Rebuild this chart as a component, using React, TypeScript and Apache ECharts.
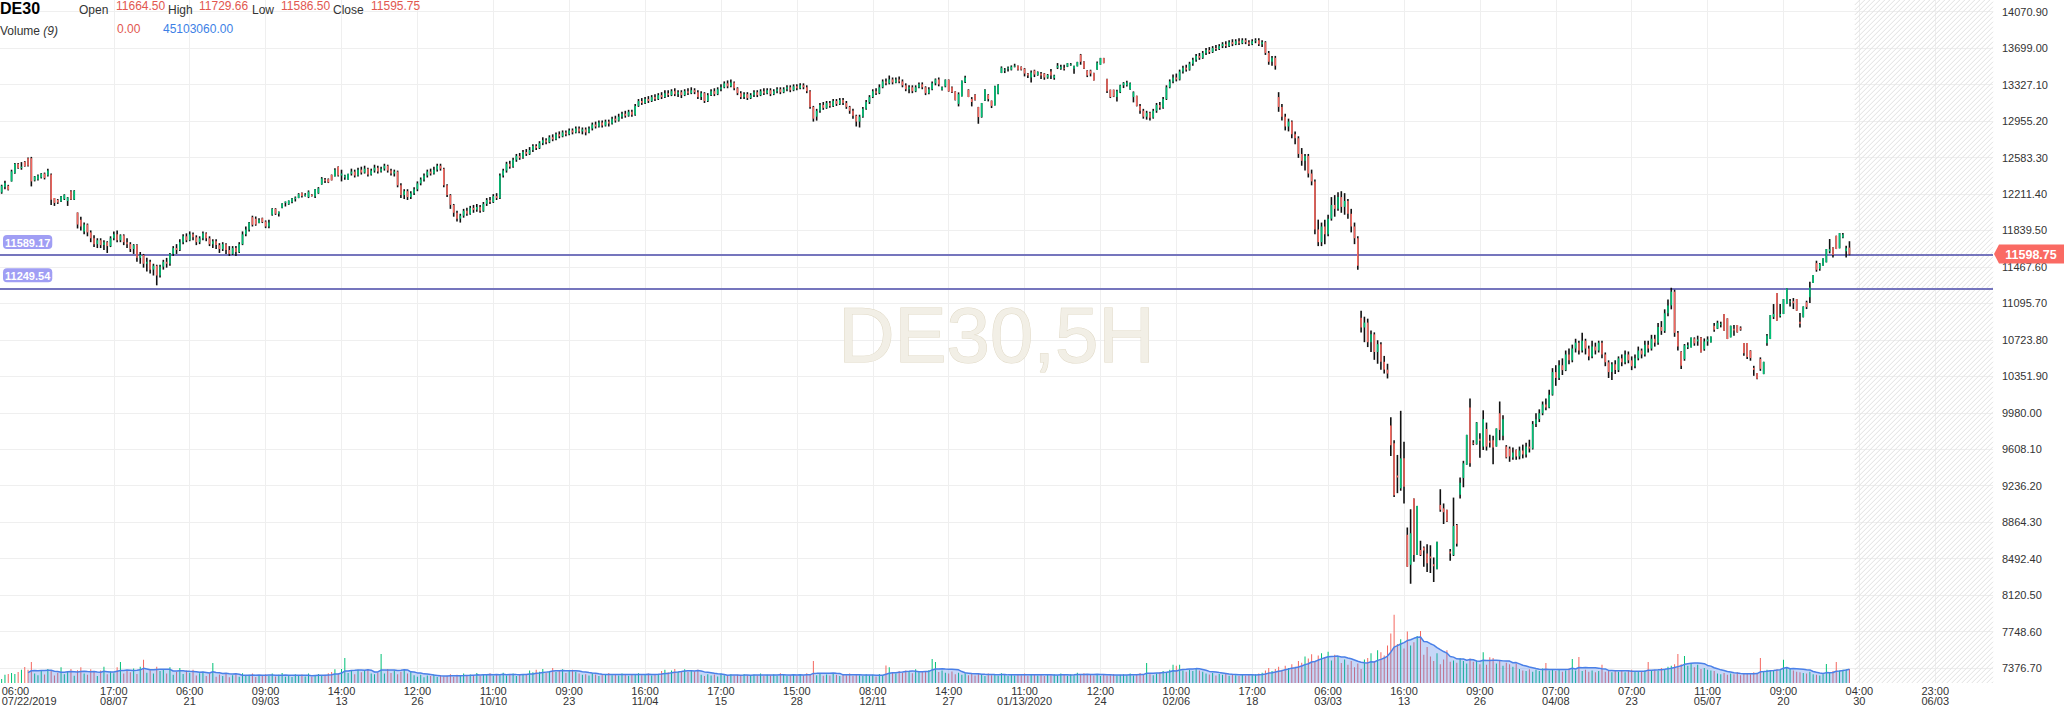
import React, { useEffect, useRef } from "react";
import * as echarts from "echarts";

const symbolName = "DE30";
const periodName = "5H";

// [open, close, low, high] for each 5H bar
const ohlc: number[][] = [
  [12227,12295,12214,12305],[12282,12323,12261,12346],[12295,12255,12248,12305],[12340,12442,12338,12459],[12425,12520,12418,12527],[12520,12476,12470,12527],[12476,12490,12459,12537],[12540,12493,12490,12547],[12575,12500,12493,12585],[12577,12340,12289,12590],
  [12350,12390,12340,12395],[12360,12400,12350,12410],[12380,12420,12370,12425],[12420,12375,12360,12430],[12400,12450,12390,12470],[12410,12153,12100,12420],[12170,12120,12090,12170],[12150,12125,12110,12160],[12135,12185,12130,12190],[12160,12205,12150,12210],
  [12140,12175,12090,12180],[12240,12155,12150,12250],[12155,12245,12150,12250],[12023,11900,11860,12023],[11950,11880,11840,11980],[11830,11900,11800,11920],[11900,11820,11780,11910],[11820,11760,11720,11840],[11760,11700,11670,11790],[11700,11740,11660,11760],
  [11740,11690,11660,11760],[11690,11720,11640,11740],[11720,11680,11610,11730],[11680,11760,11670,11780],[11760,11800,11740,11830],[11800,11740,11720,11840],[11740,11790,11720,11800],[11790,11720,11690,11800],[11720,11700,11660,11760],[11700,11650,11620,11720],
  [11650,11690,11600,11700],[11690,11560,11520,11700],[11560,11590,11500,11620],[11590,11500,11460,11600],[11500,11520,11420,11560],[11520,11440,11400,11540],[11440,11480,11380,11500],[11480,11380,11280,11490],[11380,11470,11360,11490],[11470,11520,11440,11540],
  [11520,11500,11460,11560],[11500,11600,11480,11610],[11600,11660,11580,11680],[11660,11640,11600,11700],[11640,11720,11630,11750],[11720,11780,11700,11800],[11780,11740,11720,11810],[11740,11800,11730,11830],[11800,11770,11740,11820],[11770,11720,11690,11790],
  [11720,11760,11700,11780],[11760,11810,11740,11830],[11810,11760,11730,11820],[11760,11700,11680,11780],[11700,11730,11660,11750],[11730,11690,11650,11750],[11690,11650,11610,11710],[11650,11700,11630,11720],[11700,11640,11600,11710],[11640,11600,11580,11680],
  [11600,11660,11590,11680],[11660,11620,11580,11680],[11620,11700,11610,11720],[11700,11800,11690,11830],[11800,11850,11780,11880],[11846,11921,11830,11925],[11975,11897,11880,11990],[11960,11900,11887,11982],[11915,11950,11914,11965],[11965,11925,11915,11970],
  [11930,11880,11863,11942],[11880,11920,11863,11948],[12000,12060,11990,12067],[12060,12010,11998,12067],[12010,12030,11982,12033],[12070,12115,12067,12118],[12120,12135,12084,12135],[12105,12145,12100,12146],[12130,12165,12118,12170],[12160,12175,12135,12186],
  [12170,12210,12169,12220],[12225,12190,12176,12227],[12190,12205,12186,12220],[12180,12235,12170,12248],[12205,12190,12186,12210],[12185,12260,12170,12262],[12220,12270,12213,12282],[12310,12370,12306,12384],[12360,12345,12323,12374],[12363,12330,12323,12370],
  [12407,12350,12350,12410],[12390,12460,12390,12475],[12490,12400,12390,12493],[12400,12420,12340,12459],[12380,12400,12357,12408],[12357,12418,12357,12418],[12418,12440,12400,12470],[12440,12400,12380,12460],[12400,12460,12390,12480],[12460,12430,12410,12490],
  [12430,12470,12420,12500],[12470,12410,12390,12480],[12410,12450,12400,12470],[12450,12480,12430,12510],[12480,12440,12420,12500],[12440,12470,12430,12490],[12470,12500,12450,12520],[12500,12450,12430,12510],[12450,12420,12400,12470],[12420,12440,12390,12460],
  [12440,12300,12280,12450],[12300,12200,12170,12320],[12200,12240,12160,12260],[12240,12180,12150,12260],[12180,12220,12160,12240],[12220,12260,12200,12280],[12260,12320,12240,12340],[12320,12360,12300,12380],[12360,12400,12340,12420],[12400,12440,12380,12460],
  [12440,12420,12400,12470],[12420,12460,12410,12490],[12460,12500,12440,12520],[12500,12470,12450,12520],[12470,12300,12280,12480],[12300,12200,12180,12310],[12200,12100,12060,12210],[12100,12020,11980,12110],[12020,11960,11930,12040],[11960,11990,11920,12010],
  [11990,12040,11970,12060],[12040,12010,11990,12070],[12010,12070,12000,12090],[12070,12050,12020,12100],[12050,12080,12030,12110],[12080,12040,12020,12100],[12040,12110,12030,12130],[12110,12150,12090,12170],[12150,12130,12110,12180],[12130,12190,12120,12210],
  [12190,12170,12150,12220],[12170,12400,12160,12420],[12400,12450,12380,12470],[12450,12520,12430,12540],[12520,12490,12470,12550],[12490,12560,12480,12580],[12560,12600,12540,12620],[12600,12580,12560,12630],[12580,12640,12570,12660],[12640,12620,12600,12670],
  [12620,12660,12610,12690],[12660,12700,12640,12720],[12700,12680,12660,12720],[12680,12730,12670,12750],[12730,12760,12710,12790],[12760,12740,12720,12780],[12740,12790,12730,12810],[12790,12770,12750,12820],[12770,12820,12760,12840],[12820,12800,12780,12850],
  [12800,12840,12790,12860],[12840,12820,12800,12860],[12820,12860,12810,12880],[12860,12840,12820,12880],[12840,12880,12830,12900],[12880,12850,12830,12900],[12850,12870,12820,12890],[12870,12840,12810,12890],[12840,12880,12830,12900],[12880,12920,12860,12940],
  [12920,12900,12880,12950],[12900,12940,12890,12960],[12940,12910,12890,12960],[12910,12950,12900,12970],[12950,12930,12900,12970],[12930,12980,12920,13000],[12980,12960,12940,13010],[12960,13000,12950,13030],[13000,13030,12980,13050],[13030,13010,12990,13060],
  [13010,13050,13000,13070],[13050,13020,13000,13070],[13020,13110,13010,13130],[13110,13160,13100,13180],[13160,13140,13120,13190],[13140,13180,13130,13200],[13180,13160,13140,13210],[13160,13200,13150,13220],[13200,13180,13160,13230],[13180,13220,13170,13240],
  [13220,13200,13180,13250],[13200,13240,13190,13270],[13240,13220,13200,13270],[13220,13260,13210,13280],[13260,13230,13210,13290],[13230,13250,13200,13270],[13250,13220,13190,13270],[13220,13260,13210,13280],[13260,13240,13220,13290],[13240,13270,13230,13300],
  [13270,13250,13230,13290],[13250,13200,13180,13270],[13200,13240,13170,13260],[13240,13160,13140,13250],[13160,13220,13150,13240],[13220,13260,13210,13280],[13260,13230,13210,13290],[13230,13280,13220,13300],[13280,13300,13260,13330],[13300,13340,13290,13360],
  [13340,13310,13290,13370],[13310,13350,13300,13380],[13350,13290,13270,13360],[13290,13240,13220,13300],[13240,13200,13180,13260],[13200,13230,13180,13250],[13230,13190,13170,13250],[13190,13220,13180,13240],[13220,13250,13200,13270],[13250,13220,13200,13270],
  [13220,13260,13210,13280],[13260,13240,13220,13290],[13240,13270,13230,13290],[13270,13230,13210,13290],[13230,13260,13220,13280],[13260,13280,13240,13300],[13280,13250,13230,13300],[13250,13280,13240,13300],[13280,13300,13260,13320],[13300,13270,13250,13320],
  [13270,13310,13260,13330],[13310,13290,13270,13330],[13290,13320,13280,13340],[13320,13300,13280,13340],[13300,13260,13240,13320],[13260,13100,13080,13270],[13100,12980,12950,13110],[13000,13060,12960,13080],[13060,13120,13040,13140],[13120,13090,13070,13150],
  [13090,13140,13080,13160],[13140,13110,13090,13160],[13110,13160,13100,13180],[13160,13130,13110,13180],[13130,13170,13120,13190],[13170,13140,13120,13190],[13140,13100,13080,13160],[13100,13060,13030,13110],[13060,13010,12980,13080],[13010,12950,12900,13020],
  [12950,13000,12890,13020],[13000,13080,12990,13100],[13080,13150,13070,13170],[13150,13200,13130,13220],[13200,13260,13190,13280],[13260,13240,13220,13290],[13240,13300,13230,13330],[13300,13360,13290,13380],[13360,13340,13320,13390],[13340,13380,13330,13420],
  [13380,13350,13330,13400],[13350,13380,13340,13400],[13380,13360,13340,13410],[13360,13320,13300,13380],[13320,13280,13260,13340],[13280,13300,13240,13320],[13300,13260,13240,13320],[13260,13300,13250,13320],[13300,13330,13290,13350],[13330,13300,13280,13350],
  [13300,13240,13220,13310],[13240,13280,13230,13300],[13280,13340,13270,13360],[13340,13380,13320,13390],[13380,13330,13310,13400],[13275,13300,13268,13309],[13309,13377,13300,13380],[13377,13258,13255,13380],[13300,13250,13241,13309],[13258,13170,13166,13260],
  [13130,13230,13105,13248],[13207,13367,13207,13370],[13355,13400,13343,13418],[13275,13200,13200,13280],[13180,13150,13105,13200],[13224,13170,13166,13228],[13098,12996,12928,13100],[12996,13139,12990,13140],[13166,13275,13160,13280],[13224,13180,13156,13230],
  [13163,13110,13088,13165],[13115,13310,13115,13316],[13234,13326,13230,13330],[13445,13500,13445,13513],[13470,13480,13445,13496],[13490,13500,13462,13513],[13480,13510,13472,13523],[13510,13520,13503,13540],[13520,13480,13472,13522],[13510,13480,13472,13513],
  [13490,13440,13411,13496],[13440,13420,13394,13445],[13400,13450,13350,13472],[13470,13430,13404,13479],[13425,13455,13418,13462],[13440,13420,13384,13455],[13440,13400,13377,13445],[13400,13425,13387,13435],[13460,13420,13384,13486],[13395,13420,13377,13428],
  [13500,13520,13486,13547],[13490,13510,13479,13530],[13500,13490,13472,13530],[13510,13545,13506,13547],[13530,13535,13520,13547],[13490,13520,13438,13520],[13513,13557,13513,13560],[13632,13560,13530,13640],[13564,13490,13486,13566],[13472,13420,13404,13475],
  [13470,13440,13411,13479],[13445,13370,13370,13447],[13479,13550,13479,13564],[13530,13598,13530,13600],[13598,13547,13545,13600],[13384,13260,13241,13386],[13275,13200,13190,13276],[13275,13205,13200,13276],[13200,13260,13156,13275],[13250,13320,13241,13326],
  [13320,13345,13292,13353],[13320,13350,13309,13367],[13280,13340,13275,13350],[13200,13250,13146,13258],[13214,13110,13105,13214],[13110,13060,13030,13130],[13060,13000,12980,13080],[13000,13040,12970,13060],[13040,12990,12960,13050],[12990,13060,12980,13080],
  [13060,13120,13040,13140],[13120,13090,13070,13150],[13090,13180,13080,13200],[13180,13300,13170,13320],[13300,13360,13290,13380],[13360,13400,13340,13430],[13400,13380,13360,13440],[13380,13460,13370,13480],[13460,13500,13440,13520],[13500,13480,13460,13530],
  [13480,13540,13470,13560],[13540,13580,13520,13600],[13580,13620,13560,13640],[13620,13600,13580,13650],[13600,13650,13590,13670],[13650,13680,13630,13700],[13680,13660,13640,13710],[13660,13700,13650,13720],[13700,13690,13670,13730],[13690,13720,13680,13740],
  [13720,13740,13700,13760],[13740,13720,13700,13770],[13720,13760,13710,13780],[13760,13740,13720,13790],[13740,13770,13730,13790],[13770,13750,13730,13800],[13750,13780,13740,13800],[13780,13760,13740,13800],[13760,13740,13720,13780],[13740,13770,13730,13790],
  [13770,13780,13750,13800],[13780,13740,13720,13800],[13740,13760,13710,13780],[13760,13650,13630,13770],[13650,13560,13530,13670],[13560,13600,13520,13620],[13600,13520,13480,13620],[13200,13100,13050,13250],[13100,13000,12960,13130],[13000,12900,12860,13030],
  [12900,12950,12850,12980],[12950,12820,12780,12960],[12820,12780,12720,12850],[12780,12620,12580,12800],[12620,12550,12500,12680],[12550,12600,12450,12620],[12600,12420,12380,12620],[12420,12340,12300,12460],[12340,11850,11800,12360],[11850,11720,11680,11950],
  [11720,11880,11680,11920],[11880,11800,11700,11950],[11800,11960,11780,12000],[11960,12100,11940,12180],[12100,12060,11980,12200],[12060,12180,12040,12230],[12180,12080,12020,12240],[12080,12140,12000,12220],[12140,12010,11960,12160],[12010,11880,11820,12060],
  [11880,11760,11700,11920],[11760,11480,11440,11780],[10950,10850,10800,11020],[10850,10900,10700,10960],[10900,10700,10650,10940],[10700,10780,10600,10820],[10780,10600,10520,10800],[10600,10680,10480,10720],[10680,10500,10420,10700],[10500,10420,10380,10560],
  [10420,10380,10330,10480],[9850,9650,9540,9935],[9670,9140,9120,9700],[9340,9320,9160,9550],[9210,9515,9185,10000],[9515,9225,9055,9685],[8735,8410,8410,8810],[8430,8750,8235,8995],[9105,8530,8460,9105],[8530,9030,8530,9030],
  [8580,8530,8520,8675],[8605,8575,8410,8615],[8545,8445,8355,8640],[8515,8495,8345,8630],[8435,8415,8255,8505],[8385,8665,8385,8665],[9040,8990,8970,9200],[9005,8965,8845,9055],[8990,8870,8865,8990],[8565,8545,8470,8590],
  [8530,8825,8520,9115],[8835,8645,8615,8845],[9145,9265,9105,9320],[9315,9465,9220,9490],[9450,9755,9450,9755],[10035,9465,9430,10125],[9675,9665,9650,9700],[9660,9880,9655,9885],[9715,9695,9520,9770],[9635,9915,9600,10005],
  [9815,9635,9595,9880],[9695,9675,9625,9755],[9700,9625,9455,9745],[9635,9820,9635,9820],[9975,9805,9700,10095],[9745,9915,9700,9955],[9635,9525,9515,9650],[9615,9535,9480,9635],[9525,9575,9500,9625],[9600,9535,9500,9605],
  [9535,9595,9505,9635],[9595,9555,9515,9655],[9555,9635,9525,9675],[9635,9615,9575,9705],[9615,9865,9605,9895],[9865,9915,9835,9975],[9915,9975,9885,10015],[9975,10065,9955,10095],[10065,10035,10005,10125],[10035,10165,10025,10215],
  [10165,10395,10155,10435],[10395,10335,10255,10465],[10335,10465,10315,10515],[10465,10415,10365,10535],[10415,10575,10405,10615],[10575,10515,10475,10635],[10515,10635,10495,10675],[10635,10695,10595,10735],[10695,10615,10575,10715],[10615,10715,10595,10795],
  [10715,10635,10575,10735],[10635,10555,10515,10665],[10555,10655,10535,10715],[10655,10615,10575,10695],[10615,10695,10595,10715],[10695,10575,10535,10715],[10575,10495,10455,10595],[10495,10395,10335,10515],[10395,10475,10315,10495],[10475,10415,10375,10515],
  [10415,10535,10395,10555],[10535,10495,10455,10575],[10495,10575,10475,10615],[10575,10515,10485,10605],[10515,10455,10415,10555],[10455,10535,10435,10575],[10535,10615,10515,10655],[10615,10575,10535,10635],[10575,10675,10555,10715],[10675,10635,10595,10715],
  [10635,10735,10615,10775],[10735,10695,10655,10775],[10695,10855,10675,10895],[10855,10815,10775,10915],[10815,10995,10795,11035],[10995,11075,10965,11135],[11075,11215,11035,11255],[11215,10795,10755,11235],[10795,10655,10615,10815],[10602,10459,10426,10608],
  [10528,10668,10511,10681],[10648,10668,10630,10698],[10647,10749,10647,10749],[10738,10688,10664,10749],[10708,10728,10664,10766],[10749,10598,10596,10753],[10628,10708,10613,10738],[10708,10728,10664,10759],[10698,10758,10696,10759],[10868,10828,10807,10895],
  [10838,10898,10834,10919],[10878,10888,10851,10909],[10987,10817,10817,10988],[10943,10732,10732,10943],[10749,10868,10749,10868],[10838,10818,10766,10875],[10875,10800,10798,10875],[10848,10828,10817,10861],[10691,10588,10562,10691],[10691,10548,10528,10691],
  [10613,10538,10511,10618],[10438,10418,10357,10459],[10385,10328,10323,10385],[10528,10428,10408,10545],[10374,10500,10374,10500],[10688,10768,10664,10783],[10732,10977,10732,10977],[10958,10988,10936,11089],[11201,10919,10919,11201],[10968,10988,10953,11089],
  [10987,11140,10987,11140],[11089,11249,11089,11249],[11108,11118,11065,11140],[11118,11098,11038,11150],[11140,11021,11021,11140],[10908,10888,10851,10997],[10953,11065,10953,11065],[11108,11058,11038,11123],[11158,11258,11099,11317],[11303,11385,11303,11385],
  [11507,11438,11419,11531],[11448,11498,11429,11507],[11480,11555,11480,11555],[11514,11650,11514,11650],[11628,11648,11606,11752],[11667,11588,11565,11668],[11786,11650,11650,11786],[11657,11813,11657,11813],[11768,11798,11759,11813],[11628,11658,11565,11684],
  [11664.5,11595.75,11586.5,11729.66],
];

// traded volume per bar, in millions
const volumes: number[] = [
  13,26,29,32,29,35,42,51,42,67, 30,25,38,27,45,40,24,33,50,28, 36,45,23,41,50,30,26,44,35,22, 40,52,28,37,31,50,67,30,40,34,
  46,29,52,74,33,41,30,52,38,45, 30,50,26,35,48,29,40,33,42,24, 31,36,22,30,64,20,27,22,30,18, 25,28,20,31,24,26,30,19,25,22,
  28,23,30,21,26,32,20,24,19,28, 23,27,21,30,20,25,29,22,26,31, 35,44,30,45,80,32,40,28,42,34, 38,45,30,28,33,93,30,45,32,40,
  28,36,42,30,38,25,20,26,18,24, 22,27,19,25,21,23,28,20,26,22, 30,24,27,25,32,22,29,26,31,23, 28,25,33,24,27,30,22,28,26,29,
  40,34,42,36,45,33,38,48,35,40, 44,32,38,42,36,30,26,28,24,31, 27,22,29,26,32,25,28,24,30,27, 23,29,26,31,25,28,30,24,27,29,
  38,42,34,40,45,36,38,44,35,40, 37,42,26,22,28,24,27,21,30,25, 23,28,24,26,22,29,25,23,27,24, 30,22,26,24,28,23,31,27,22,25,
  29,23,27,24,31,26,70,25,29,23, 27,24,31,26,22,28,25,30,23,27, 25,22,28,24,26,21,29,23,56,50, 35,30,38,33,40,36,31,44,34,38,
  36,41,77,67,35,40,33,30,37,28, 33,26,31,25,29,24,32,27,22,30, 25,28,23,31,26,22,29,24,27,25, 30,23,28,26,24,29,22,27,25,28,
  24,30,26,23,28,25,33,27,31,29, 26,24,28,22,27,23,25,29,24,26, 28,25,30,24,27,32,26,64,28,25, 30,34,38,35,42,58,55,58,40,36,
  42,38,45,40,36,30,27,32,24,29, 26,30,23,28,25,22,27,24,29,26, 28,30,33,40,48,38,45,52,42,55, 48,60,52,70,65,85,78,92,70,88,
  95,82,100,72,90,85,64,75,58,70, 50,62,45,75,80,95,70,105,98,88, 120,158,218,125,140,110,165,120,130,150, 166,90,115,85,70,95,60,75,105,68,
  72,65,80,70,62,78,68,72,60,98, 58,82,80,62,70,55,65,60,52,62, 45,40,38,44,36,42,38,46,64,40, 44,38,42,36,40,46,77,40,83,38,
  42,36,40,34,38,58,36,40,34,38, 36,40,34,38,42,35,38,36,40,67, 38,42,40,48,44,52,55,60,93,60, 86,55,62,50,58,45,48,42,40,38,
  30,28,32,26,30,28,34,25,30,32, 28,34,30,80,35,42,40,38,44,42, 74,50,45,40,36,34,32,30,36,28, 26,24,28,61,32,38,67,40,42,44,
  45,
];

const tickBars = [0,34,57,80,103,126,149,172,195,218,241,264,287,310,333,356,379,402,425,448,471,494,517,540,563,586];
const tickTimes = ["06:00","17:00","06:00","09:00","14:00","12:00","11:00","09:00","16:00","17:00","15:00","08:00","14:00","11:00","12:00","10:00","17:00","06:00","16:00","09:00","07:00","07:00","11:00","09:00","04:00","23:00"];
const tickDates = ["07/22/2019","08/07","21","09/03","13","26","10/10","23","11/04","15","28","12/11","27","01/13/2020","24","02/06","18","03/03","13","26","04/08","23","05/07","20","30","06/03"];

const levelPrices = [11589.17, 11249.54];
const lastPrice = 11598.75;
const headerVolume = 0;
const headerVolumeMA = 45103060;
const maPeriod = 9;
const totalSlots = 604;

const Y_MIN = 7004.8;
const Y_MAX = 14442.8;
const Y_STEP = 371.9;
const VOL_AXIS_MAX = 2185;

const UP = "#00c176";
const DOWN = "#f4675f";
const FONT = 'Arial, "Liberation Sans", Helvetica, sans-serif';

const W = 2064;
const H = 709;
const GRID_RIGHT = 71;
const PLOT_BOTTOM = 683;

export default function App() {
  const ref = useRef<HTMLDivElement>(null);

  useEffect(() => {
    document.body.style.margin = "0";
    const chart = echarts.init(ref.current as HTMLDivElement, null, { renderer: "svg" });

    const tickSet = new Set(tickBars);
    const categories: string[] = [];
    for (let i = 0; i < totalSlots; i++) {
      const k = tickBars.indexOf(i);
      categories.push(k >= 0 ? `${tickTimes[k]}\n${tickDates[k]}` : "");
    }

    const candleData = ohlc.map((d, i) => [i, d[0], d[1], d[2], d[3]]);
    const volData = volumes.map((v, i) => ({
      value: v,
      itemStyle: { color: ohlc[i][1] >= ohlc[i][0] ? UP : DOWN },
    }));
    const volMA = volumes.map((_, i) => {
      if (i < maPeriod - 1) return null;
      let s = 0;
      for (let j = i - maPeriod + 1; j <= i; j++) s += volumes[j];
      return s / maPeriod;
    });

    const renderCandle = (_p: any, api: any) => {
      const i = api.value(0);
      const o = api.value(1);
      const c = api.value(2);
      const l = api.value(3);
      const h = api.value(4);
      const ph = api.coord([i, h]);
      const pl = api.coord([i, l]);
      const po = api.coord([i, o]);
      const pc = api.coord([i, c]);
      const w = 1.6;
      const x = ph[0] - w / 2;
      const top = Math.min(po[1], pc[1]);
      const bh = Math.max(Math.abs(po[1] - pc[1]), 1);
      return {
        type: "group",
        children: [
          { type: "rect", shape: { x, y: ph[1], width: w, height: Math.max(pl[1] - ph[1], 1) }, style: { fill: "#111" } },
          { type: "rect", shape: { x, y: top, width: w, height: bh }, style: { fill: c >= o ? UP : DOWN } },
        ],
      };
    };

    const option: any = {
      animation: false,
      textStyle: { fontFamily: FONT },
      grid: [
        { left: 0, right: GRID_RIGHT, top: -24.76, bottom: 4.54, outerBoundsMode: "none", containLabel: false },
        { left: 0, right: GRID_RIGHT, top: 0, bottom: H - PLOT_BOTTOM, outerBoundsMode: "none", containLabel: false },
      ],
      xAxis: [
        { type: "category", gridIndex: 0, data: categories, show: false, boundaryGap: true },
        {
          type: "category",
          gridIndex: 1,
          data: categories,
          boundaryGap: true,
          axisLine: { show: false },
          axisTick: { show: false },
          axisLabel: {
            interval: (i: number) => tickSet.has(i),
            color: "#333",
            fontSize: 11,
            lineHeight: 10,
            margin: 3,
            fontFamily: FONT,
            alignMinLabel: "left",
            hideOverlap: false,
          },
          splitLine: {
            show: true,
            interval: (i: number) => i !== 0 && tickSet.has(i),
            alignWithLabel: true,
            lineStyle: { color: "#efefef", width: 1 },
          },
        },
      ],
      yAxis: [
        {
          type: "value",
          gridIndex: 0,
          position: "right",
          min: Y_MIN,
          max: Y_MAX,
          interval: Y_STEP,
          axisLine: { show: false },
          axisTick: { show: false },
          axisLabel: {
            formatter: (v: number) => v.toFixed(2),
            showMinLabel: false,
            showMaxLabel: false,
            margin: 9,
            color: "#333",
            fontSize: 11,
            fontFamily: FONT,
          },
          splitLine: { show: true, showMinLine: false, showMaxLine: false, lineStyle: { color: "#efefef", width: 1 } },
        },
        { type: "value", gridIndex: 1, min: 0, max: VOL_AXIS_MAX, show: false, splitLine: { show: false } },
      ],
      series: [
        {
          type: "bar",
          xAxisIndex: 1,
          yAxisIndex: 1,
          data: volData,
          barWidth: 1,
          z: 2,
          silent: true,
        },
        {
          type: "line",
          xAxisIndex: 1,
          yAxisIndex: 1,
          data: volMA,
          symbol: "none",
          lineStyle: { color: "#4a80e8", width: 1.5 },
          areaStyle: { color: "rgba(74,128,232,0.45)" },
          z: 3,
          silent: true,
        },
        {
          type: "custom",
          xAxisIndex: 0,
          yAxisIndex: 0,
          data: candleData,
          encode: { x: 0, y: [1, 2, 3, 4] },
          renderItem: renderCandle,
          clip: true,
          z: 5,
          silent: true,
        },
        {
          type: "line",
          xAxisIndex: 0,
          yAxisIndex: 0,
          data: ohlc.map((d) => d[1]),
          symbol: "none",
          lineStyle: { opacity: 0, width: 0 },
          z: 6,
          silent: true,
          markLine: {
            silent: true,
            symbol: ["none", "none"],
            lineStyle: { color: "#7575bd", width: 2, type: "solid" },
            label: {
              show: true,
              position: "insideStartTop",
              formatter: (p: any) => Number(p.value).toFixed(2),
              color: "#fff",
              fontWeight: "bold",
              fontSize: 11,
              fontFamily: FONT,
              backgroundColor: "#a09ef4",
              borderRadius: 4,
              padding: [2, 2, 1, 2],
              distance: [3, 6],
            },
            emphasis: { disabled: true },
            data: levelPrices.map((v) => ({ yAxis: v })),
          },
        },
      ],
    };

    chart.setOption(option);

    const py = chart.convertToPixel({ yAxisIndex: 0 }, lastPrice) as unknown as number;
    const hx0 = (chart.convertToPixel({ xAxisIndex: 1 }, ohlc.length) as unknown as number) + 2;
    const hx1 = W - GRID_RIGHT;
    const hw = hx1 - hx0;
    const hh = PLOT_BOTTOM;

    const graphics: any[] = [];
    for (let d = -hh; d < hw; d += 5) {
      const u0 = Math.max(0, d);
      const u1 = Math.min(hw, hh + d);
      if (u1 <= u0) continue;
      graphics.push({
        type: "line",
        silent: true,
        z: 1,
        shape: { x1: hx0 + u0, y1: hh - (u0 - d), x2: hx0 + u1, y2: hh - (u1 - d) },
        style: { stroke: "#e1e1e1", lineWidth: 1 },
      });
    }

    graphics.push({
      type: "text",
      silent: true,
      z: 1,
      x: hx1 / 2,
      y: 335,
      style: {
        text: `${symbolName},${periodName}`,
        fontSize: 78,
        fontFamily: FONT,
        fill: "#f2efe6",
        stroke: "#e0d9c6",
        lineWidth: 1,
        align: "center",
        verticalAlign: "middle",
      },
    });

    const last = ohlc[ohlc.length - 1];
    const red = "#e2574f";
    const txt = (text: string, x: number, y: number, fill: string, extra: any = {}) => ({
      type: "text",
      silent: true,
      z: 20,
      x,
      y,
      style: { text, fill, fontSize: 12, fontFamily: FONT, align: "left", verticalAlign: "middle", ...extra },
    });
    graphics.push(txt(symbolName, 0, 8, "#000", { fontSize: 16, fontWeight: "bold" }));
    graphics.push(txt("Open", 79, 9.5, "#333"));
    graphics.push(txt(last[0].toFixed(2), 116, 6, red));
    graphics.push(txt("High", 168, 9.5, "#333"));
    graphics.push(txt(last[3].toFixed(2), 199, 6, red));
    graphics.push(txt("Low", 252, 9.5, "#333"));
    graphics.push(txt(last[2].toFixed(2), 281, 6, red));
    graphics.push(txt("Close", 333, 9.5, "#333"));
    graphics.push(txt(last[1].toFixed(2), 371, 6, red));
    graphics.push({
      type: "text",
      silent: true,
      z: 20,
      x: 0,
      y: 31,
      style: {
        text: `{a|Volume }{b|(${maPeriod})}`,
        fontFamily: FONT,
        verticalAlign: "middle",
        rich: {
          a: { fontSize: 12, fill: "#333", fontFamily: FONT },
          b: { fontSize: 12, fill: "#333", fontStyle: "italic", fontFamily: FONT },
        },
      },
    });
    graphics.push(txt(headerVolume.toFixed(2), 117, 29, red));
    graphics.push(txt(headerVolumeMA.toFixed(2), 163, 29, "#3d7fe6"));

    // last price tag
    graphics.push({
      type: "polygon",
      silent: true,
      z: 20,
      shape: {
        points: [
          [hx1 + 1, py],
          [hx1 + 6, py - 9.5],
          [W, py - 9.5],
          [W, py + 9.5],
          [hx1 + 6, py + 9.5],
        ],
      },
      style: { fill: "#fa6a63" },
    });
    graphics.push({
      type: "text",
      silent: true,
      z: 21,
      x: 2031,
      y: py + 0.5,
      style: {
        text: lastPrice.toFixed(2),
        fill: "#fff",
        fontSize: 12.5,
        fontWeight: "bold",
        fontFamily: FONT,
        align: "center",
        verticalAlign: "middle",
      },
    });

    chart.setOption({ graphic: graphics });

    return () => chart.dispose();
  }, []);

  return <div ref={ref} style={{ width: W, height: H }} />;
}
